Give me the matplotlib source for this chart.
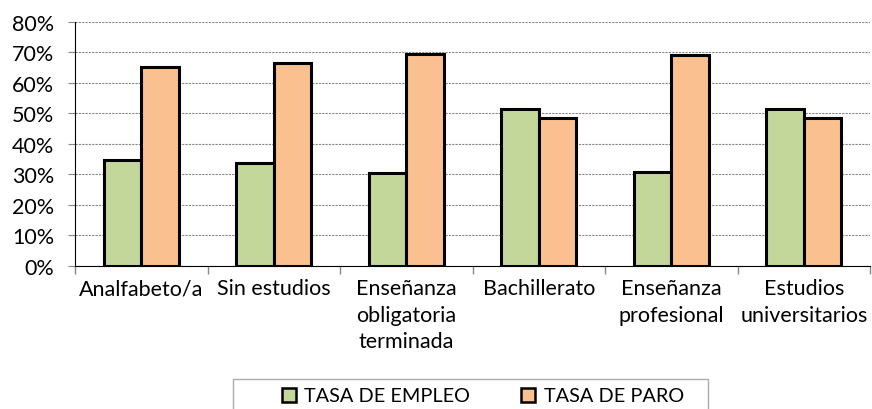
import numpy as np
import matplotlib.pyplot as plt
from matplotlib.patches import Rectangle
from matplotlib.ticker import PercentFormatter

# ----------------------------
# Data
# ----------------------------
categories = [
    'Analfabeto/a',
    'Sin estudios',
    'Enseñanza\nobligatoria\nterminada',
    'Bachillerato',
    'Enseñanza\nprofesional',
    'Estudios\nuniversitarios',
]
tasa_empleo = [34.8, 33.6, 30.5, 51.5, 30.8, 51.4]
tasa_paro = [65.2, 66.4, 69.5, 48.5, 69.2, 48.6]

plt.rcParams['font.family'] = ['Lato', 'DejaVu Sans']

# ----------------------------
# Plot
# ----------------------------
fig = plt.figure(figsize=(8.72, 4.10), dpi=100)
ax = fig.add_axes([0.086, 0.349, 0.912, 0.595])

x = np.arange(len(categories))
w = 0.283
ax.bar(x - w / 2, tasa_empleo, w, color='#c4d79b', edgecolor='black',
       linewidth=2.2, label='TASA DE EMPLEO', zorder=3)
ax.bar(x + w / 2, tasa_paro, w, color='#fac090', edgecolor='black',
       linewidth=2.2, label='TASA DE PARO', zorder=3)

ax.set_xlim(-0.5, len(categories) - 0.5)
ax.set_ylim(0, 80)
ax.set_yticks(np.arange(0, 81, 10))
ax.yaxis.set_major_formatter(PercentFormatter(decimals=0))
ax.grid(axis='y', color='#888888', linestyle=(0, (2, 1)), linewidth=0.8, zorder=0)

ax.set_xticks(x)
ax.set_xticklabels(categories, fontsize=15.5, linespacing=1.4, va='top')
ax.set_xticks(np.arange(-0.5, len(categories)), minor=True)
ax.tick_params(axis='x', which='major', length=0, pad=9)
ax.tick_params(axis='x', which='minor', length=6, color='#888888', width=1)
ax.tick_params(axis='y', length=5, color='#888888', labelsize=15.5, pad=10)

for s in ['top', 'right']:
    ax.spines[s].set_visible(False)
ax.spines['left'].set_color('black')
ax.spines['bottom'].set_color('black')

# legend box (cut off at the bottom edge, as in the original)
fig.patches.append(Rectangle((233 / 872, -0.02), 475 / 872, (412 - 382) / 410 + 0.02,
                             transform=fig.transFigure, facecolor='white',
                             edgecolor='#aaaaaa', linewidth=1))
leg = fig.legend(loc='center', bbox_to_anchor=(483 / 872, 1 - 397 / 410), ncol=2,
                 fontsize=14.3, frameon=False,
                 handlelength=0.7, handleheight=0.7, handletextpad=0.45,
                 columnspacing=2.57, borderpad=0)
for h in leg.legend_handles:
    h.set_linewidth(1.8)

fig.savefig('out.png', dpi=100)
